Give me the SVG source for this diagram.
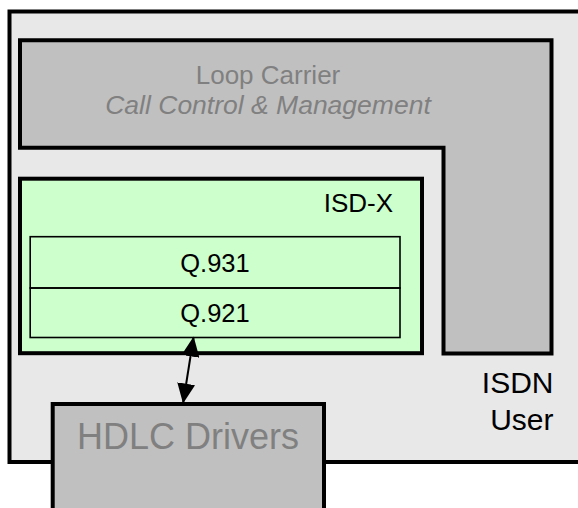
<svg xmlns="http://www.w3.org/2000/svg" width="578" height="508" viewBox="0 0 578 508">
  <defs>
    <style>
      .thick { stroke: #000; stroke-width: 4; }
      .thin { stroke: #000; stroke-width: 1.6; }
      .gray { fill: #c0c0c0; }
      .lbl { font-family: "Liberation Sans", Arial, sans-serif; }
      .dim { fill: #808080; }
      .blk { fill: #000; }
    </style>
    <marker id="arr" markerUnits="userSpaceOnUse" markerWidth="20" markerHeight="18" refX="19" refY="9" orient="auto-start-reverse" viewBox="0 0 20 18">
      <path d="M0,0 L20,9 L0,18 Z" fill="#000"/>
    </marker>
  </defs>
  <rect width="578" height="508" fill="#fff"/>

  <g id="isdn-user">
    <rect x="9.5" y="11.5" width="580" height="450.5" fill="#e8e8e8" class="thick"/>
    <text class="lbl blk" x="553.5" y="393.3" font-size="30" text-anchor="end">ISDN</text>
    <text class="lbl blk" x="553.5" y="430" font-size="30" text-anchor="end">User</text>
  </g>

  <g id="loop-carrier">
    <path d="M20,40.3 H551.5 V353.5 H443.5 V147.7 H20 Z" class="gray thick" stroke-linejoin="miter"/>
    <text class="lbl dim" x="268" y="83.5" font-size="26" text-anchor="middle">Loop Carrier</text>
    <text class="lbl dim" x="268" y="113.5" font-size="26.5" font-style="italic" text-anchor="middle">Call Control &amp; Management</text>
  </g>

  <g id="isd-x">
    <rect x="20" y="178.7" width="402" height="174.5" fill="#ccffcc" class="thick"/>
    <text class="lbl blk" x="393" y="211.7" font-size="26" text-anchor="end">ISD-X</text>
  </g>

  <g id="q931">
    <rect x="30.2" y="236.7" width="369.8" height="51.3" fill="none" class="thin"/>
    <text class="lbl blk" x="215" y="271.7" font-size="25.5" text-anchor="middle">Q.931</text>
  </g>

  <g id="q921">
    <rect x="30.2" y="288" width="369.8" height="49.5" fill="none" class="thin"/>
    <text class="lbl blk" x="215" y="321.7" font-size="25.5" text-anchor="middle">Q.921</text>
  </g>

  <g id="hdlc">
    <rect x="52.7" y="404" width="271.3" height="120" class="gray thick"/>
    <text class="lbl dim" x="188" y="448.5" font-size="36" text-anchor="middle">HDLC Drivers</text>
  </g>

  <g id="connectors">
    <line x1="193.5" y1="337.5" x2="183.2" y2="402.5" stroke="#000" stroke-width="2" marker-start="url(#arr)" marker-end="url(#arr)"/>
  </g>
</svg>
